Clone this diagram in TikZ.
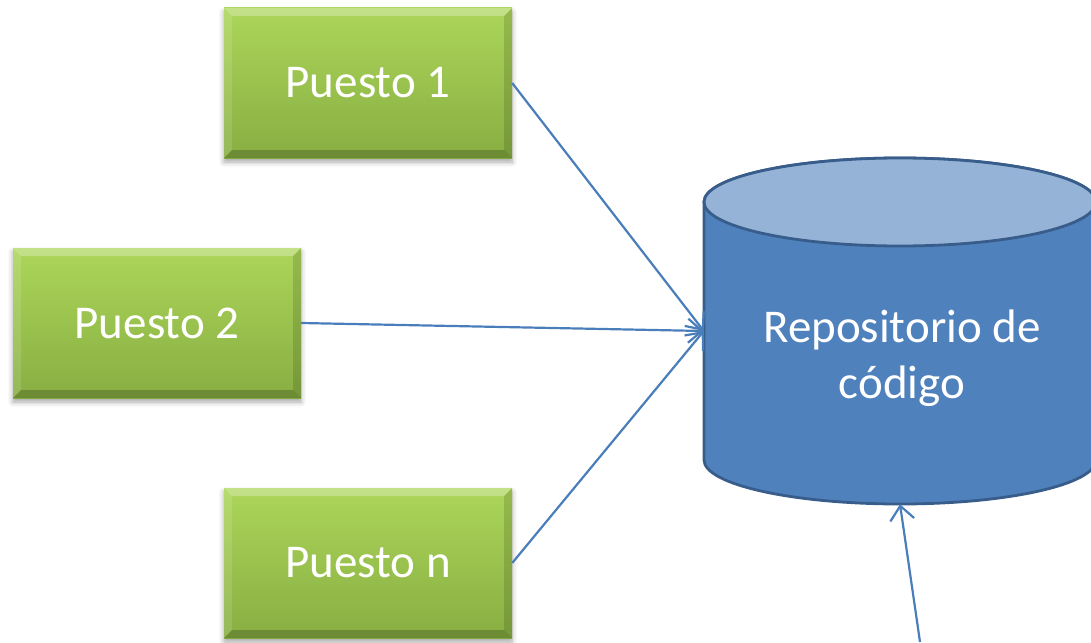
\documentclass[tikz,border=0pt]{standalone}
\usepackage{fontspec}
\setmainfont{Carlito}
\usetikzlibrary{arrows.meta,shadows.blur}
\definecolor{greentop}{RGB}{172,214,90}
\definecolor{greenbot}{RGB}{136,174,66}
\definecolor{repobody}{RGB}{79,129,189}
\definecolor{repotop}{RGB}{149,179,215}
\definecolor{repoedge}{RGB}{56,93,138}
\definecolor{linkblue}{RGB}{74,126,187}
\tikzset{
  puesto/.style={
    minimum width=288pt, minimum height=150pt, inner sep=0pt,
    top color=greentop, bottom color=greenbot,
    text=white, font=\fontsize{47}{57}\selectfont,
    blur shadow={shadow xshift=0pt, shadow yshift=-4pt,
                 shadow blur radius=5pt, shadow opacity=35},
    path picture={
      \coordinate (bnw) at (path picture bounding box.north west);
      \coordinate (bne) at (path picture bounding box.north east);
      \coordinate (bsw) at (path picture bounding box.south west);
      \coordinate (bse) at (path picture bounding box.south east);
      % bevelled rim: light top/left, dark right/bottom
      \fill[white, opacity=0.28] (bnw) -- (bne) -- ([shift={(-8pt,-8pt)}]bne) -- ([shift={(8pt,-8pt)}]bnw) -- cycle;
      \fill[white, opacity=0.12] (bnw) -- ([shift={(8pt,-8pt)}]bnw) -- ([shift={(8pt,8pt)}]bsw) -- (bsw) -- cycle;
      \fill[black, opacity=0.13] (bne) -- (bse) -- ([shift={(-8pt,8pt)}]bse) -- ([shift={(-8pt,-8pt)}]bne) -- cycle;
      \fill[black, opacity=0.20] (bsw) -- ([shift={(8pt,8pt)}]bsw) -- ([shift={(-8pt,8pt)}]bse) -- (bse) -- cycle;
    }
  },
  link/.style={draw=linkblue, line width=2.2pt,
    -{Straight Barb[length=14pt,width=24pt,line width=2.2pt]}},
  cylline/.style={draw=repoedge, line width=2.8pt}
}
\begin{document}
\begin{tikzpicture}[x=1pt,y=-1pt]
\useasboundingbox (0,0) rectangle (1091,642);

% workstations
\node[puesto] (p1) at (368,83) {Puesto 1};
\node[puesto] (p2) at (157,323) {Puesto 2};
\node[puesto] (pn) at (368,563) {Puesto n};

% repository cylinder
\path[fill=repobody, cylline]
  (704,202) -- (704,460) arc[start angle=180, end angle=360, x radius=196pt, y radius=44pt]
  -- (1096,202) arc[start angle=0, end angle=180, x radius=196pt, y radius=44pt] -- cycle;
\path[fill=repotop, cylline] (900,202) ellipse[x radius=196pt, y radius=44pt];
\node[minimum width=392pt, minimum height=346pt, inner sep=0pt] (repo) at (900,331) {};
\node[text=white, align=center, font=\fontsize{47}{56}\selectfont] (repolabel) at (902,358)
  {Repositorio de\\código};

% connections
\coordinate (src) at (920,642);
\draw[link] (p1.east) -- (repo.west);
\draw[link] (p2.east) -- (repo.west);
\draw[link] (pn.east) -- (repo.west);
\draw[link] (src) -- (repo.south);
\end{tikzpicture}
\end{document}
